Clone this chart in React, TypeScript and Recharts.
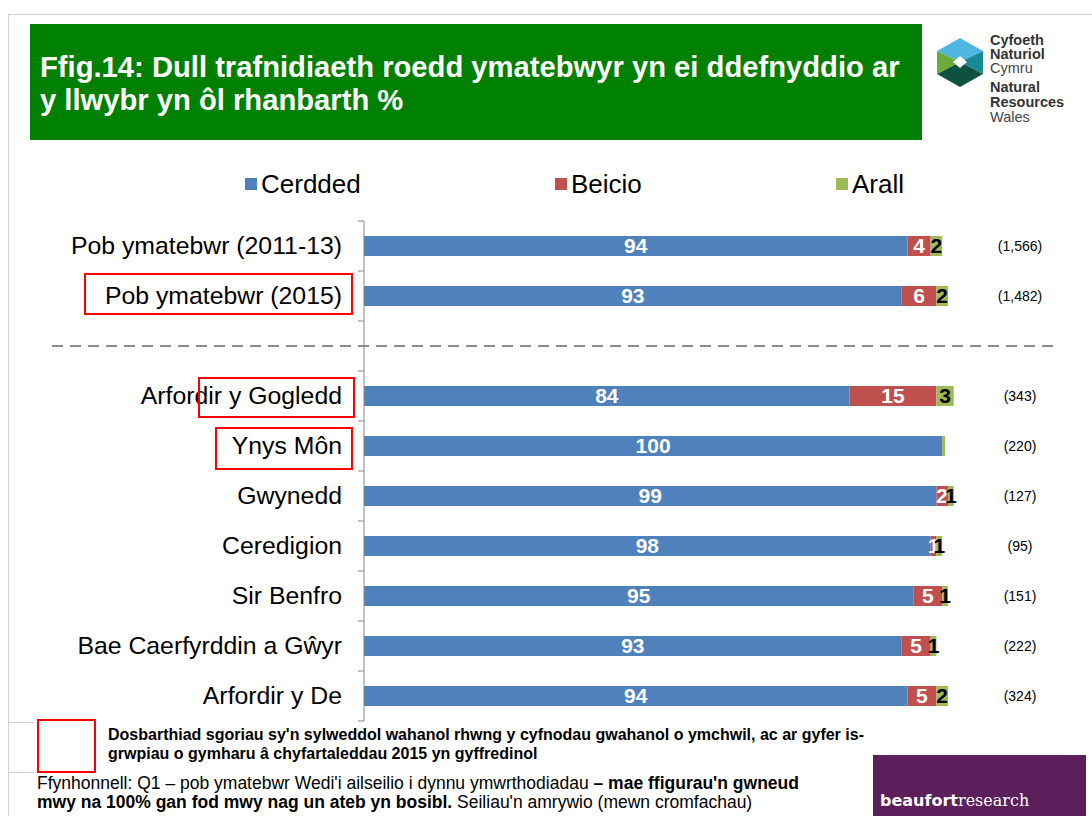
import React from 'react';
import { BarChart, Bar, XAxis, YAxis, LabelList } from 'recharts';

const categories = [
  'Pob ymatebwr (2011-13)',
  'Pob ymatebwr (2015)',
  '',
  'Arfordir y Gogledd',
  'Ynys Môn',
  'Gwynedd',
  'Ceredigion',
  'Sir Benfro',
  'Bae Caerfyrddin a Gŵyr',
  'Arfordir y De',
];
const cerdded = [94, 93, null, 84, 100, 99, 98, 95, 93, 94];
const beicio = [4, 6, null, 15, 0, 2, 1, 5, 5, 5];
const arall = [2, 2, null, 3, 0.5, 1, 1, 1, 1, 2];
const sampleSizes = ['(1,566)', '(1,482)', '', '(343)', '(220)', '(127)', '(95)', '(151)', '(222)', '(324)'];

const seriesNames = ['Cerdded', 'Beicio', 'Arall'];
const colors = ['#4F81BD', '#C0504D', '#9BBB59'];

const data = categories.map((name, i) => ({
  name,
  cerdded: cerdded[i],
  beicio: beicio[i],
  arall: arall[i],
  n: sampleSizes[i],
}));

const W = 1092;
const H = 816;
const MARGIN = { top: 221, right: 0, bottom: 95, left: 0 };
const LEFT_AXIS_W = 364;
const RIGHT_AXIS_W = 92;
const PLOT_H = H - MARGIN.top - MARGIN.bottom;
const BAND = PLOT_H / categories.length;
const FONT = '"Liberation Sans", Arial, sans-serif';

const fmt = (v: any) => (v == null || v < 1 ? '' : v);

const LeftTick = (props: any) => {
  const { x, y, payload, index } = props;
  const axisX = x + 22;
  return (
    <g>
      <line x1={axisX - 6} x2={axisX} y1={y - BAND / 2} y2={y - BAND / 2} stroke="#868686" strokeWidth={1} />
      {index === categories.length - 1 && (
        <line x1={axisX - 6} x2={axisX} y1={y + BAND / 2} y2={y + BAND / 2} stroke="#868686" strokeWidth={1} />
      )}
      <text x={x} y={y} dy={8} textAnchor="end" fontSize={24.8} fill="#000" fontFamily={FONT}>
        {payload.value}
      </text>
    </g>
  );
};

const RightTick = (props: any) => {
  const { x, y, index } = props;
  return (
    <text x={x} y={y} dy={5} textAnchor="middle" fontSize={14} fill="#000" fontFamily={FONT}>
      {sampleSizes[index]}
    </text>
  );
};

const legendLeft = [245, 555, 836];

const redBox = (left: number, top: number, width: number, height: number) => ({
  position: 'absolute' as const,
  left,
  top,
  width,
  height,
  border: '2px solid #FF0000',
  boxSizing: 'border-box' as const,
});

export default function App() {
  return (
    <div style={{ position: 'absolute', left: 0, top: 0, width: W, height: H, background: '#fff', overflow: 'hidden', fontFamily: FONT }}>
      {/* slide frame */}
      <div style={{ position: 'absolute', left: 8, top: 14, width: W - 8, height: 1, background: '#D0D0D0' }} />
      <div style={{ position: 'absolute', left: 8, top: 14, width: 1, height: H - 14, background: '#D0D0D0' }} />
      <div style={{ position: 'absolute', left: 8, top: 722, width: 26, height: 1, background: '#D0D0D0' }} />
      <div style={{ position: 'absolute', left: 8, top: 772, width: 26, height: 1, background: '#D0D0D0' }} />

      {/* title */}
      <div style={{ position: 'absolute', left: 30, top: 24, width: 892, height: 116, background: '#008000' }}>
        <div style={{ position: 'absolute', left: 10, top: 27, color: '#fff', fontWeight: 'bold', fontSize: 29.2, lineHeight: '33px', whiteSpace: 'nowrap' }}>
          Ffig.14: Dull trafnidiaeth roedd ymatebwyr yn ei ddefnyddio ar
          <br />
          y llwybr yn ôl rhanbarth %
        </div>
      </div>

      {/* logo */}
      <svg style={{ position: 'absolute', left: 930, top: 30 }} width={162} height={100}>
        <g transform="translate(-930,-30)">
          <polygon points="960,38 983,51 960,62 937,51" fill="#4DB7E2" />
          <polygon points="983,51 983,74 960,62" fill="#168B97" />
          <polygon points="983,74 960,87 937,74 960,62" fill="#0D5140" />
          <polygon points="937,74 937,51 960,62" fill="#6CAA3A" />
          <polygon points="960,56 967,62 960,68 953,62" fill="#fff" />
          <text x={990} y={45} fontSize={14.5} fontWeight="bold" fill="#333">Cyfoeth</text>
          <text x={990} y={59} fontSize={14.5} fontWeight="bold" fill="#333">Naturiol</text>
          <text x={990} y={73} fontSize={14.5} fill="#444">Cymru</text>
          <text x={990} y={92} fontSize={14.5} fontWeight="bold" fill="#333">Natural</text>
          <text x={990} y={107} fontSize={14.5} fontWeight="bold" fill="#333">Resources</text>
          <text x={990} y={122} fontSize={14.5} fill="#444">Wales</text>
        </g>
      </svg>

      {/* legend */}
      {seriesNames.map((s, i) => (
        <div key={s} style={{ position: 'absolute', left: legendLeft[i], top: 169, height: 30, display: 'flex', alignItems: 'center', fontSize: 26, color: '#000', whiteSpace: 'nowrap' }}>
          <span style={{ display: 'inline-block', width: 12, height: 12, background: colors[i], marginRight: 4 }} />
          {s}
        </div>
      ))}

      <div style={{ position: 'absolute', left: 0, top: 0 }}>
        <BarChart width={W} height={H} data={data} layout="vertical" margin={MARGIN} barSize={20}>
          <XAxis type="number" domain={[0, 110]} hide />
          <YAxis
            yAxisId="left"
            type="category"
            dataKey="name"
            width={LEFT_AXIS_W}
            axisLine={{ stroke: '#868686' }}
            tickLine={false}
            tickSize={6}
            tickMargin={16}
            interval={0}
            tick={<LeftTick />}
          />
          <YAxis
            yAxisId="right"
            orientation="right"
            type="category"
            dataKey="name"
            width={RIGHT_AXIS_W}
            axisLine={false}
            tickLine={false}
            tickSize={0}
            tickMargin={20}
            interval={0}
            tick={<RightTick />}
          />
          <Bar yAxisId="left" dataKey="cerdded" name="Cerdded" stackId="a" fill={colors[0]} isAnimationActive={false}>
            <LabelList dataKey="cerdded" position="center" formatter={fmt} fill="#fff" fontSize={21} fontWeight="bold" fontFamily={FONT} />
          </Bar>
          <Bar yAxisId="left" dataKey="beicio" name="Beicio" stackId="a" fill={colors[1]} isAnimationActive={false}>
            <LabelList dataKey="beicio" position="center" formatter={fmt} fill="#fff" fontSize={21} fontWeight="bold" fontFamily={FONT} />
          </Bar>
          <Bar yAxisId="left" dataKey="arall" name="Arall" stackId="a" fill={colors[2]} isAnimationActive={false}>
            <LabelList dataKey="arall" position="center" formatter={fmt} fill="#000" fontSize={21} fontWeight="bold" fontFamily={FONT} />
          </Bar>
        </BarChart>
      </div>

      {/* dashed separator */}
      <svg style={{ position: 'absolute', left: 0, top: 340 }} width={W} height={12}>
        <line x1={52} x2={1058} y1={6} y2={6} stroke="#8C8C8C" strokeWidth={2} strokeDasharray="11 7" />
      </svg>

      {/* highlight boxes */}
      <div style={redBox(84, 273, 269, 42)} />
      <div style={redBox(198, 377, 157, 41)} />
      <div style={redBox(215, 427, 138, 43)} />

      {/* footnote */}
      <div style={redBox(37, 719, 59, 54)} />
      <div style={{ position: 'absolute', left: 108, top: 725, fontSize: 16, fontWeight: 'bold', lineHeight: '19px', color: '#000', whiteSpace: 'nowrap' }}>
        Dosbarthiad sgoriau sy'n sylweddol wahanol rhwng y cyfnodau gwahanol o ymchwil, ac ar gyfer is-
        <br />
        grwpiau o gymharu â chyfartaleddau 2015 yn gyffredinol
      </div>
      <div style={{ position: 'absolute', left: 37, top: 774, fontSize: 17.5, lineHeight: '19px', color: '#000', whiteSpace: 'nowrap' }}>
        Ffynhonnell: Q1 – pob ymatebwr Wedi'i ailseilio i dynnu ymwrthodiadau <b>– mae ffigurau'n gwneud</b>
        <br />
        <b>mwy na 100% gan fod mwy nag un ateb yn bosibl.</b> Seiliau'n amrywio (mewn cromfachau)
      </div>

      {/* beaufort */}
      <div style={{ position: 'absolute', left: 873, top: 755, width: 213, height: 61, background: '#5D1F5B' }}>
        <div style={{ position: 'absolute', left: 7, top: 36, color: '#fff', fontSize: 16, whiteSpace: 'nowrap', fontFamily: '"DejaVu Sans", sans-serif' }}>
          <b>beaufort</b>
          <span style={{ fontFamily: '"DejaVu Serif", serif' }}>research</span>
        </div>
      </div>
    </div>
  );
}
